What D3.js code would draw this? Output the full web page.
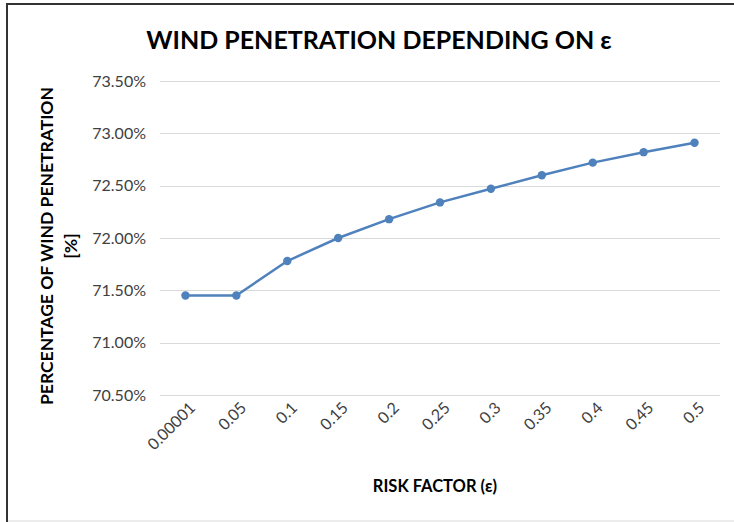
<!DOCTYPE html>
<html>
<head>
<meta charset="utf-8">
<script src="https://cdn.jsdelivr.net/npm/d3@7"></script>
<style>
  html, body { margin: 0; padding: 0; background: #fff; }
  svg { display: block; }
</style>
</head>
<body>
<svg id="chart" width="734" height="522"></svg>
<script>
// Risk factor categories and the resulting wind penetration (%)
const riskFactors = ["0.00001", "0.05", "0.1", "0.15", "0.2", "0.25", "0.3", "0.35", "0.4", "0.45", "0.5"];
const penetration = [71.45, 71.45, 71.78, 72.00, 72.18, 72.34, 72.47, 72.60, 72.72, 72.82, 72.91];
const yTicks = [70.5, 71.0, 71.5, 72.0, 72.5, 73.0, 73.5];

const W = 734, H = 522;
const margin = { left: 160, right: 14, top: 81, bottom: 127 };
const font = "Lato, 'Open Sans', sans-serif";

const svg = d3.select("#chart");

// frame around the chart
svg.append("line").attr("x1", 7).attr("x2", 7).attr("y1", 4).attr("y2", H)
  .attr("stroke", "#333").attr("stroke-width", 2);
svg.append("line").attr("x1", 6).attr("x2", W).attr("y1", 4).attr("y2", 4)
  .attr("stroke", "#333").attr("stroke-width", 2);
svg.append("line").attr("x1", 8).attr("x2", W).attr("y1", 521).attr("y2", 521)
  .attr("stroke", "#d9d9d9").attr("stroke-width", 1);

const x = d3.scaleBand().domain(riskFactors)
  .range([margin.left, W - margin.right]);
const y = d3.scaleLinear().domain([70.5, 73.5])
  .range([395, 81]);

// horizontal gridlines
svg.append("g")
  .selectAll("line").data(yTicks).join("line")
  .attr("x1", margin.left).attr("x2", W - margin.right)
  .attr("y1", d => Math.round(y(d)) + 0.5).attr("y2", d => Math.round(y(d)) + 0.5)
  .attr("stroke", "#d9d9d9").attr("stroke-width", 1);

// y axis labels
const yAxis = d3.axisLeft(y).tickValues(yTicks)
  .tickFormat(d => d.toFixed(2) + "%").tickSize(0).tickPadding(14);
const gy = svg.append("g").attr("transform", `translate(${margin.left},0)`).call(yAxis);
gy.select(".domain").remove();
gy.selectAll("text").attr("font-family", font).attr("font-size", 16).attr("fill", "#404040");

// x axis labels, rotated
const xAxis = d3.axisBottom(x).tickSize(0).tickPadding(0);
const gx = svg.append("g").attr("transform", `translate(0,400)`).call(xAxis);
gx.select(".domain").remove();
gx.selectAll("text")
  .attr("font-family", font).attr("font-size", 16).attr("fill", "#404040")
  .attr("text-anchor", "end")
  .attr("dy", "0.35em")
  .attr("transform", "translate(7,5) rotate(-45)");

// series line and markers
const cx = d => x(d) + x.bandwidth() / 2;
const line = d3.line().x((d, i) => cx(riskFactors[i])).y(d => y(d));
svg.append("path").datum(penetration)
  .attr("d", line).attr("fill", "none")
  .attr("stroke", "#4f81bd").attr("stroke-width", 2.5)
  .attr("stroke-linejoin", "round");
svg.append("g").selectAll("circle").data(penetration).join("circle")
  .attr("cx", (d, i) => cx(riskFactors[i])).attr("cy", d => y(d))
  .attr("r", 4.2).attr("fill", "#4f81bd");

// titles
svg.append("text").attr("x", 379).attr("y", 49)
  .attr("text-anchor", "middle").attr("font-family", font)
  .attr("font-weight", "bold").attr("font-size", 25).attr("fill", "#000")
  .text("WIND PENETRATION DEPENDING ON ε");

svg.append("text").attr("x", 435).attr("y", 492)
  .attr("text-anchor", "middle").attr("font-family", font)
  .attr("font-weight", "bold").attr("font-size", 16.5).attr("fill", "#000")
  .text("RISK FACTOR (ε)");

const yt = svg.append("text").attr("transform", "translate(53,246) rotate(-90)")
  .attr("text-anchor", "middle").attr("font-family", font)
  .attr("font-weight", "bold").attr("font-size", 17.5).attr("fill", "#000");
yt.append("tspan").attr("x", 0).attr("dy", 0).text("PERCENTAGE OF WIND PENETRATION");
yt.append("tspan").attr("x", 0).attr("dy", 24).text("[%]");
</script>
</body>
</html>
